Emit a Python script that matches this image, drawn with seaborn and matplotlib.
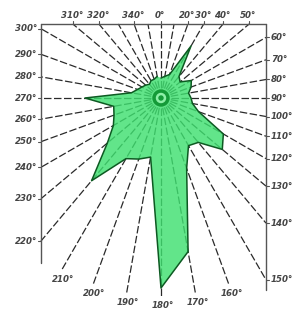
import matplotlib
matplotlib.use("Agg")
import matplotlib.pyplot as plt
import numpy as np
import seaborn as sns

# directions (deg, clockwise from north) and rose radii (px-like units)
angles = list(range(0, 360, 10))
radii = [20, 22, 25, 60, 28, 25, 35, 32, 28, 30, 32, 40,
         72, 80, 58, 55, 75, 156, 190, 60, 65, 70, 108, 70,
         55, 50, 48, 76, 30, 25, 22, 20, 18, 20, 20, 22]
labelled = [310, 320, 340, 0, 20, 30, 40, 50,
            60, 70, 80, 90, 100, 110, 120, 130, 140, 150,
            160, 170, 180, 190, 200, 210,
            220, 230, 240, 250, 260, 270, 280, 290, 300]

# frame (center of rose at 0,0)
X_LEFT, X_RIGHT, Y_TOP = -120, 105, 74
Y_LEFT_BOT, Y_RIGHT_BOT = -165, -192
R_FREE = 200

sns.set_theme(style="white")
plt.rcParams["font.family"] = ["DejaVu Sans"]

fig = plt.figure(figsize=(2.97, 3.13), dpi=100)
ax = fig.add_axes([0, 0, 1, 1])
ax.set_xlim(-161, 136)
ax.set_ylim(-215, 98)
ax.axis("off")

th = np.deg2rad(angles)
dx, dy = np.sin(th), np.cos(th)

# rays
ends = {}
for a, ux, uy in zip(angles, dx, dy):
    hits = []
    if ux > 1e-9:
        hits.append(("r", X_RIGHT / ux))
    if ux < -1e-9:
        hits.append(("l", X_LEFT / ux))
    if uy > 1e-9:
        hits.append(("t", Y_TOP / uy))
    side, t = min(hits, key=lambda h: h[1]) if hits else ("b", R_FREE)
    if t > 215:
        side, t = "b", R_FREE
    ends[a] = (side, t * ux, t * uy)
    ax.plot([0, t * ux], [0, t * uy], color="#2a2a2a", lw=0.9,
            ls=(0, (6, 2)), zorder=1)

# frame lines
ax.plot([X_LEFT, X_RIGHT], [Y_TOP, Y_TOP], color="#555555", lw=1.0, zorder=2)
ax.plot([X_LEFT, X_LEFT], [Y_TOP, Y_LEFT_BOT], color="#555555", lw=1.0, zorder=2)
ax.plot([X_RIGHT, X_RIGHT], [Y_TOP, Y_RIGHT_BOT], color="#555555", lw=1.0, zorder=2)

# rose polygon
px = np.append(np.array(radii) * dx, radii[0] * dx[0])
py = np.append(np.array(radii) * dy, radii[0] * dy[0])
ax.fill(px, py, color="#3fe070", alpha=0.82, zorder=3, lw=0)
sns.lineplot(x=px, y=py, sort=False, color="#0d5a22", lw=1.1, ax=ax, zorder=4)

# center mark
ax.add_patch(plt.Circle((0, 0), 8, color="#149a38", zorder=5))
ax.add_patch(plt.Circle((0, 0), 4.5, color="#8ef0a8", zorder=6))
ax.add_patch(plt.Circle((0, 0), 2, color="#149a38", zorder=7))

# labels + ticks
txt = dict(fontsize=6.2, fontstyle="italic", fontweight="bold", color="#444444")
for a in labelled:
    side, ex, ey = ends[a]
    lab = f"{a}\u00b0"
    if side == "t":
        ax.plot([ex, ex], [Y_TOP, Y_TOP + 3], color="#555555", lw=0.8)
        ax.text(ex - 1, Y_TOP + 9, lab, ha="center", va="center", **txt)
    elif side == "r":
        ax.plot([X_RIGHT, X_RIGHT + 3], [ey, ey], color="#555555", lw=0.8)
        ax.text(X_RIGHT + 5, ey, lab, ha="left", va="center", **txt)
    elif side == "l":
        ax.plot([X_LEFT - 3, X_LEFT], [ey, ey], color="#555555", lw=0.8)
        ax.text(X_LEFT - 4, ey, lab, ha="right", va="center", **txt)
    else:
        ax.text(ex + 2, ey - 8, lab, ha="center", va="center", **txt)

fig.savefig("out.png", dpi=100)
